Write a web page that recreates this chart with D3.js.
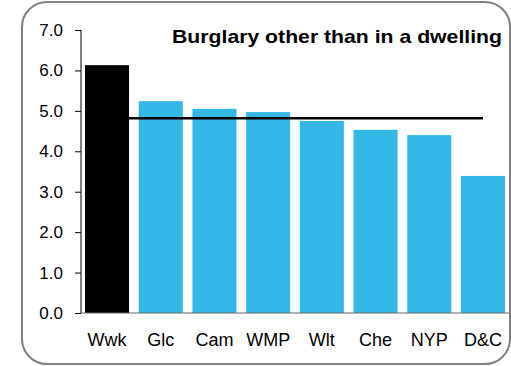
<!DOCTYPE html>
<html><head><meta charset="utf-8">
<script src="https://cdn.jsdelivr.net/npm/d3@7"></script>
<style>body{margin:0;background:#fff}svg{display:block}text{font-family:"Liberation Sans",Arial,sans-serif}</style>
</head><body><svg id="c" width="511" height="366"></svg>
<script>
const categories = ["Wwk","Glc","Cam","WMP","Wlt","Che","NYP","D&C"];
const values = [6.13,5.24,5.05,4.97,4.75,4.53,4.40,3.39];
const average = 4.82;
const yTicks = [0,1,2,3,4,5,6,7];
const title = "Burglary other than in a dwelling";

const svg = d3.select("#c");
svg.append("rect").attr("x",22).attr("y",2).attr("width",488).attr("height",362)
  .attr("rx",25).attr("fill","#fff").attr("stroke","#808080").attr("stroke-width",2);

const x = d3.scaleBand().domain(categories).range([81,509]).paddingInner(0.18).paddingOuter(0.075);
const y = d3.scaleLinear().domain([0,7]).range([313,30]);

svg.selectAll(".bar").data(values).join("rect")
  .attr("x",(d,i)=>x(categories[i])).attr("width",x.bandwidth())
  .attr("y",d=>y(d)).attr("height",d=>y(0)-y(d))
  .attr("fill",(d,i)=>i===0?"#000":"#33b8e8");

svg.append("line")
  .attr("x1",x(categories[0])+x.bandwidth()/2).attr("x2",x(categories[categories.length-1])+x.bandwidth()/2)
  .attr("y1",y(average)).attr("y2",y(average)).attr("stroke","#000").attr("stroke-width",2.5);

const ya = svg.append("g").attr("transform","translate(81,0)")
  .call(d3.axisLeft(y).tickValues(yTicks).tickFormat(d3.format(".1f")).tickSize(6).tickPadding(12));
ya.select(".domain").attr("stroke","#000").attr("d","M0,30V313");
ya.selectAll("text").attr("font-size",17).attr("fill","#000").attr("font-family","Liberation Sans, Arial");

const xa = svg.append("g").attr("transform","translate(0,313)")
  .call(d3.axisBottom(x).tickSize(0).tickPadding(20));
xa.select(".domain").attr("stroke","#666").attr("d","M81,0H510");
xa.selectAll("text").attr("font-size",18).attr("fill","#000").attr("font-family","Liberation Sans, Arial");

svg.append("text").attr("x",502).attr("y",43).attr("text-anchor","end")
  .attr("font-size",19).attr("font-weight","bold")
  .attr("textLength",330).attr("lengthAdjust","spacingAndGlyphs").text(title);
</script></body></html>
